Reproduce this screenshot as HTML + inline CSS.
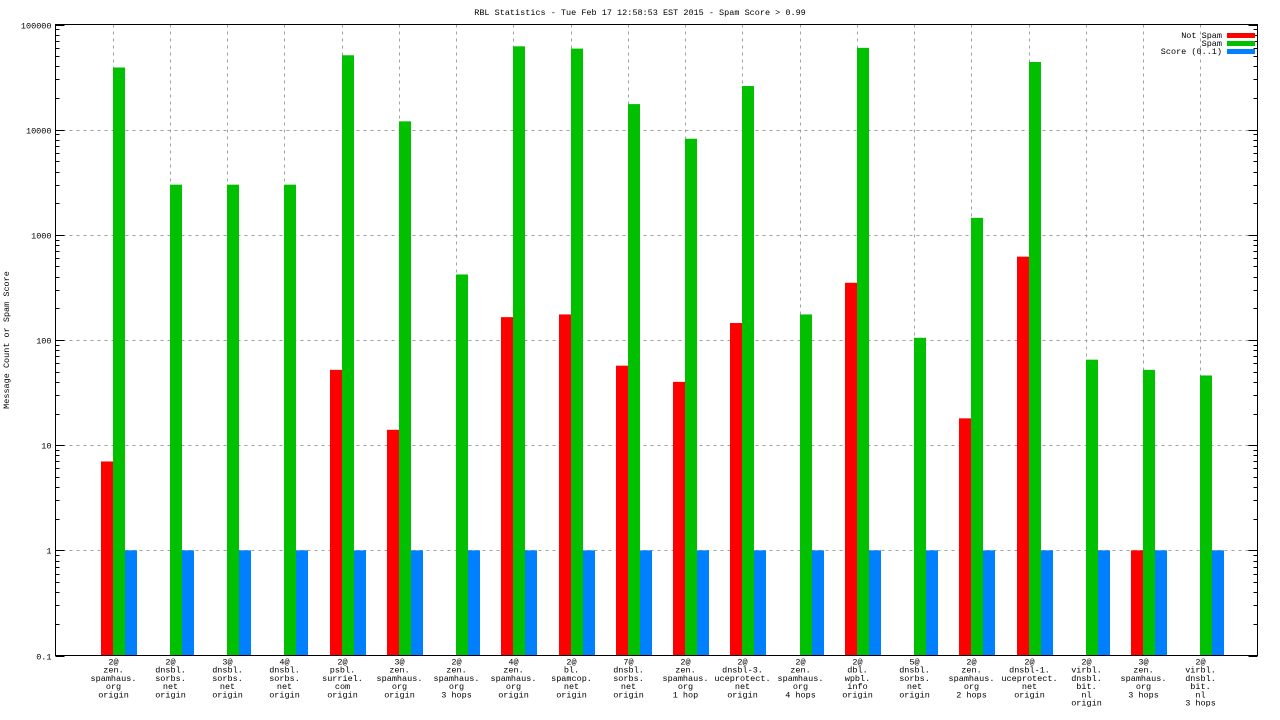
<!DOCTYPE html>
<html><head><meta charset="utf-8"><style>
body{margin:0;background:#fff}
svg{display:block;font-family:"Liberation Mono","DejaVu Sans Mono",monospace;font-size:8.5px}
</style></head><body>
<svg id="c" width="1280" height="720"></svg>
<script>
const categories=[["2@","zen.","spamhaus.","org","origin"],["2@","dnsbl.","sorbs.","net","origin"],["3@","dnsbl.","sorbs.","net","origin"],["4@","dnsbl.","sorbs.","net","origin"],["2@","psbl.","surriel.","com","origin"],["3@","zen.","spamhaus.","org","origin"],["2@","zen.","spamhaus.","org","3 hops"],["4@","zen.","spamhaus.","org","origin"],["2@","bl.","spamcop.","net","origin"],["7@","dnsbl.","sorbs.","net","origin"],["2@","zen.","spamhaus.","org","1 hop"],["2@","dnsbl-3.","uceprotect.","net","origin"],["2@","zen.","spamhaus.","org","4 hops"],["2@","dbl.","wpbl.","info","origin"],["5@","dnsbl.","sorbs.","net","origin"],["2@","zen.","spamhaus.","org","2 hops"],["2@","dnsbl-1.","uceprotect.","net","origin"],["2@","virbl.","dnsbl.","bit.","nl","origin"],["3@","zen.","spamhaus.","org","3 hops"],["2@","virbl.","dnsbl.","bit.","nl","3 hops"]];
const notSpam=[7,null,null,null,52,14,null,165,175,57,40,145,null,350,null,18,620,null,1,null];
const spam=[39000,3000,3000,3000,51000,12000,420,62000,59000,17500,8200,26000,175,60000,105,1450,44000,65,52,46];
const score=[1,1,1,1,1,1,1,1,1,1,1,1,1,1,1,1,1,1,1,1];
const yTicks=[0.1,1,10,100,1000,10000,100000];
const yTickLabels=["0.1","1","10","100","1000","10000","100000"];
const L=55.5,R=1257.5,T=24.5,B=655.5;
const NS="http://www.w3.org/2000/svg",svg=document.getElementById('c');
function el(t,a,txt){const e=document.createElementNS(NS,t);for(const k in a)e.setAttribute(k,a[k]);if(txt!=null)e.textContent=txt;svg.appendChild(e);return e;}
const y=v=>B-(Math.log10(v)+1)/6*(B-T);
const x=i=>L+(i+1)*(R-L)/21;
let t=el('text',{x:640,y:15,'text-anchor':'middle'},"RBL Statistics - Tue Feb 17 12:58:53 EST 2015 - Spam Score > 0.99");

t=el('text',{x:9,y:340,'text-anchor':'middle',transform:'rotate(-90 9 340)'},"Message Count or Spam Score");

yTicks.forEach((v,k)=>{const yy=Math.round(y(v))+0.5;
 if(k>0&&k<yTicks.length-1){const g=el('line',{x1:L,x2:R,y1:yy,y2:yy,stroke:'#a0a0a0','stroke-dasharray':'3,4'});}
 el('line',{x1:L,x2:L+9,y1:yy,y2:yy,stroke:'#000'});el('line',{x1:R,x2:R-9,y1:yy,y2:yy,stroke:'#000'});
 const lb=el('text',{x:L-4,y:yy+3,'text-anchor':'end'},yTickLabels[k]);
 if(k<yTicks.length-1)for(let m=2;m<10;m++){const my=Math.round(y(v*m))+0.5;el('line',{x1:L,x2:L+4,y1:my,y2:my,stroke:'#000'});el('line',{x1:R,x2:R-4,y1:my,y2:my,stroke:'#000'});}
});
categories.forEach((c,i)=>{const xx=Math.round(x(i))+0.5;
 const g=el('line',{x1:xx,x2:xx,y1:T,y2:B,stroke:'#a0a0a0','stroke-dasharray':'3,4'});
 c.forEach((s,j)=>{const lb=el('text',{x:xx,y:B+9+j*8.2,'text-anchor':'middle'},s);});
});
const series=[[notSpam,'#ff0000',-12,'not-spam-bar'],[spam,'#00c000',0,'spam-bar'],[score,'#0080ff',12,'score-bar']];
series.forEach(([arr,col,off,nm])=>arr.forEach((v,i)=>{if(v==null)return;const xx=Math.round(x(i))+off;const yy=y(v);
 const r=el('rect',{x:xx,y:yy,width:12,height:B-yy,fill:col});}));
const f=el('rect',{x:L,y:T,width:R-L,height:B-T,fill:'none',stroke:'#000'});
[["Not Spam",'#ff0000'],["Spam",'#00c000'],["Score (0..1)",'#0080ff']].forEach(([n,col],k)=>{const yy=35+k*8;
 const lb=el('text',{x:1222,y:yy+3,'text-anchor':'end'},n);
 const s=el('rect',{x:1227,y:yy-2,width:28,height:5,fill:col});});
</script>
</body></html>
